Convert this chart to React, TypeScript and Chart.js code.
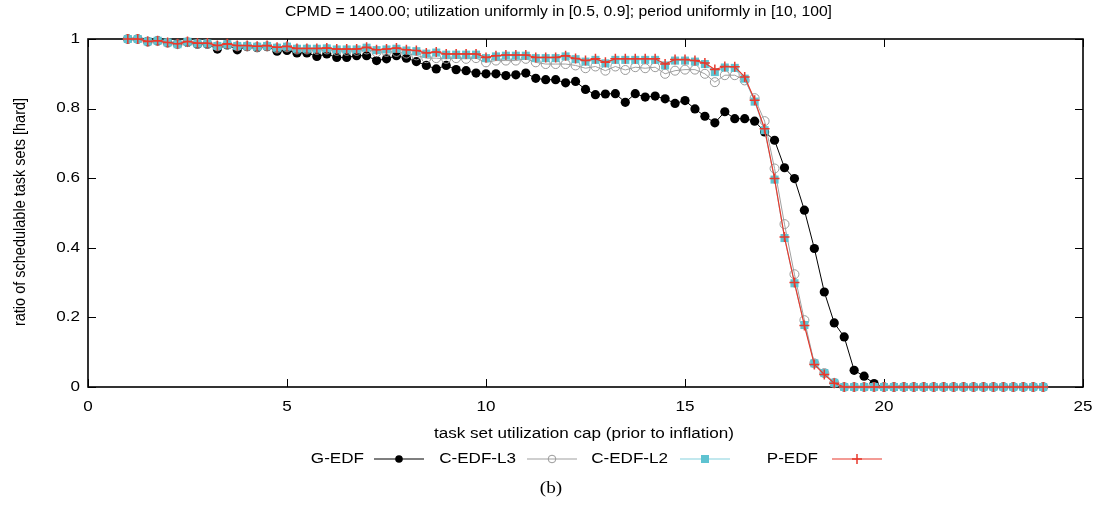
import React, { useEffect, useRef } from "react";
import { Chart, registerables } from "chart.js";

Chart.register(...registerables);

// ---------- data ----------
const utilizationCap = [
  1, 1.25, 1.5, 1.75, 2, 2.25, 2.5, 2.75, 3, 3.25,
  3.5, 3.75, 4, 4.25, 4.5, 4.75, 5, 5.25, 5.5, 5.75,
  6, 6.25, 6.5, 6.75, 7, 7.25, 7.5, 7.75, 8, 8.25,
  8.5, 8.75, 9, 9.25, 9.5, 9.75, 10, 10.25, 10.5, 10.75,
  11, 11.25, 11.5, 11.75, 12, 12.25, 12.5, 12.75, 13, 13.25,
  13.5, 13.75, 14, 14.25, 14.5, 14.75, 15, 15.25, 15.5, 15.75,
  16, 16.25, 16.5, 16.75, 17, 17.25, 17.5, 17.75, 18, 18.25,
  18.5, 18.75, 19, 19.25, 19.5, 19.75, 20, 20.25, 20.5, 20.75,
  21, 21.25, 21.5, 21.75, 22, 22.25, 22.5, 22.75, 23, 23.25,
  23.5, 23.75, 24,
];

const gEdf = [
  1.0, 1.0, 0.993, 0.995, 0.99, 0.986, 0.99, 0.985, 0.985, 0.971,
  0.983, 0.969, 0.978, 0.975, 0.978, 0.965, 0.967, 0.96, 0.96, 0.95,
  0.957, 0.947, 0.947, 0.952, 0.952, 0.938, 0.943, 0.952, 0.945, 0.935,
  0.924, 0.914, 0.924, 0.912, 0.909, 0.902, 0.9, 0.9, 0.895, 0.897,
  0.902, 0.887, 0.883, 0.883, 0.874, 0.878, 0.855, 0.84, 0.842, 0.843,
  0.818, 0.843, 0.833, 0.836, 0.828, 0.815, 0.823, 0.799, 0.778, 0.759,
  0.791, 0.771, 0.771, 0.764, 0.733, 0.709, 0.63, 0.599, 0.508, 0.398,
  0.273, 0.184, 0.144, 0.048, 0.031, 0.01, 0, 0, 0, 0,
  0, 0, 0, 0, 0, 0, 0, 0, 0, 0,
  0, 0, 0,
];

const cEdfL3 = [
  1.0, 1.0, 0.992, 0.994, 0.989, 0.985, 0.991, 0.986, 0.986, 0.979,
  0.984, 0.979, 0.979, 0.977, 0.979, 0.973, 0.976, 0.97, 0.97, 0.969,
  0.97, 0.966, 0.966, 0.966, 0.97, 0.962, 0.963, 0.963, 0.958, 0.953,
  0.945, 0.945, 0.943, 0.945, 0.943, 0.945, 0.933, 0.938, 0.938, 0.938,
  0.943, 0.933, 0.928, 0.928, 0.928, 0.924, 0.916, 0.921, 0.909, 0.921,
  0.911, 0.919, 0.916, 0.919, 0.9, 0.909, 0.912, 0.912, 0.9, 0.876,
  0.896, 0.896, 0.881, 0.83, 0.764, 0.628, 0.468, 0.324, 0.192, 0.068,
  0.04, 0.012, 0, 0, 0, 0, 0, 0, 0, 0,
  0, 0, 0, 0, 0, 0, 0, 0, 0, 0,
  0, 0, 0,
];

const cEdfL2 = [
  1.0, 1.0, 0.993, 0.995, 0.99, 0.985, 0.992, 0.987, 0.987, 0.98,
  0.985, 0.98, 0.98, 0.978, 0.98, 0.975, 0.978, 0.972, 0.972, 0.972,
  0.973, 0.97, 0.97, 0.97, 0.975, 0.968, 0.97, 0.972, 0.967, 0.965,
  0.958, 0.961, 0.955, 0.955, 0.955, 0.955, 0.945, 0.95, 0.952, 0.952,
  0.952, 0.945, 0.945, 0.945, 0.95, 0.942, 0.935, 0.94, 0.93, 0.94,
  0.94, 0.94, 0.94, 0.94, 0.924, 0.938, 0.938, 0.935, 0.928, 0.905,
  0.918, 0.917, 0.886, 0.82, 0.738, 0.596, 0.428, 0.298, 0.178, 0.068,
  0.04, 0.012, 0, 0, 0, 0, 0, 0, 0, 0,
  0, 0, 0, 0, 0, 0, 0, 0, 0, 0,
  0, 0, 0,
];

const pEdf = [
  1.0, 1.0, 0.993, 0.995, 0.99, 0.986, 0.993, 0.988, 0.988, 0.981,
  0.986, 0.981, 0.981, 0.979, 0.981, 0.976, 0.979, 0.973, 0.973, 0.973,
  0.974, 0.971, 0.971, 0.971, 0.976, 0.969, 0.971, 0.974, 0.969, 0.967,
  0.96, 0.963, 0.957, 0.957, 0.957, 0.957, 0.947, 0.952, 0.954, 0.954,
  0.954, 0.947, 0.947, 0.947, 0.952, 0.944, 0.938, 0.943, 0.933, 0.943,
  0.943, 0.943, 0.943, 0.943, 0.928, 0.941, 0.941, 0.938, 0.931, 0.912,
  0.921, 0.92, 0.891, 0.824, 0.742, 0.599, 0.431, 0.3, 0.177, 0.065,
  0.036, 0.011, 0, 0, 0, 0, 0, 0, 0, 0,
  0, 0, 0, 0, 0, 0, 0, 0, 0, 0,
  0, 0, 0,
];

const seriesNames = ["G-EDF", "C-EDF-L3", "C-EDF-L2", "P-EDF"];
const xTicks = [0, 5, 10, 15, 20, 25];
const xTickLabels = ["0", "5", "10", "15", "20", "25"];
const yTicks = [0, 0.2, 0.4, 0.6, 0.8, 1];
const yTickLabels = ["0", "0.2", "0.4", "0.6", "0.8", "1"];
const chartTitle =
  "CPMD = 1400.00; utilization uniformly in [0.5, 0.9]; period uniformly in [10, 100]";
const xAxisTitle = "task set utilization cap (prior to inflation)";
const yAxisTitle = "ratio of schedulable task sets [hard]";
const caption = "(b)";

// ---------- styles ----------
const SANS = '"Liberation Sans", Arial, Helvetica, sans-serif';
const SERIF = '"Liberation Serif", "Times New Roman", serif';
const STRETCH = 1.22;

const styles = [
  { line: "#000000", point: "#000000", kind: "dot" },
  { line: "#a0a0a0", point: "#999999", kind: "ring" },
  { line: "#86d2de", point: "#5ec3d1", kind: "square" },
  { line: "#e8392c", point: "#e8392c", kind: "cross" },
];

function toPoints(ys: number[]) {
  return utilizationCap.map((x, i) => ({ x, y: ys[i] }));
}

function drawText(
  ctx: CanvasRenderingContext2D,
  text: string,
  x: number,
  y: number,
  align: CanvasTextAlign,
  size: number,
  sx: number,
  family = SANS,
  rotate = 0
) {
  ctx.save();
  ctx.translate(x, y);
  ctx.scale(sx, 1);
  if (rotate) ctx.rotate(rotate);
  ctx.font = `${size}px ${family}`;
  ctx.fillStyle = "#000";
  ctx.textAlign = align;
  ctx.textBaseline = "middle";
  ctx.fillText(text, 0, 0);
  ctx.restore();
}

function drawMarker(ctx: CanvasRenderingContext2D, kind: string, x: number, y: number, color: string) {
  ctx.save();
  if (kind === "dot") {
    ctx.fillStyle = color;
    ctx.beginPath();
    ctx.arc(x, y, 3.8, 0, Math.PI * 2);
    ctx.fill();
  } else if (kind === "ring") {
    ctx.strokeStyle = color;
    ctx.lineWidth = 1;
    ctx.beginPath();
    ctx.arc(x, y, 3.8, 0, Math.PI * 2);
    ctx.stroke();
  } else if (kind === "square") {
    ctx.fillStyle = color;
    ctx.fillRect(x - 4, y - 4, 8, 8);
  } else {
    ctx.strokeStyle = color;
    ctx.lineWidth = 1.5;
    ctx.beginPath();
    ctx.moveTo(x - 5, y);
    ctx.lineTo(x + 5, y);
    ctx.moveTo(x, y - 5);
    ctx.lineTo(x, y + 5);
    ctx.stroke();
  }
  ctx.restore();
}

const framePlugin = {
  id: "gnuplotFrame",
  beforeDatasetsDraw(chart: any) {
    const { ctx, chartArea } = chart;
    const { left, right, top, bottom } = chartArea;
    const xs = chart.scales.x;
    const ys = chart.scales.y;
    ctx.save();
    ctx.strokeStyle = "#000";
    ctx.lineWidth = 1;
    ctx.beginPath();
    xTicks.forEach((v) => {
      const px = Math.round(xs.getPixelForValue(v)) + 0.5;
      ctx.moveTo(px, bottom);
      ctx.lineTo(px, bottom - 8);
      ctx.moveTo(px, top);
      ctx.lineTo(px, top + 8);
    });
    yTicks.forEach((v) => {
      const py = Math.round(ys.getPixelForValue(v)) + 0.5;
      ctx.moveTo(left, py);
      ctx.lineTo(left + 8, py);
      ctx.moveTo(right, py);
      ctx.lineTo(right - 8, py);
    });
    ctx.stroke();
    ctx.lineWidth = 1.6;
    ctx.strokeRect(left, top, right - left, bottom - top);
    ctx.restore();
  },
  afterDraw(chart: any) {
    const { ctx, chartArea } = chart;
    const xs = chart.scales.x;
    const ys = chart.scales.y;
    // title
    drawText(ctx, chartTitle, 558.5, 12, "center", 14, 1.12);
    // tick labels
    xTicks.forEach((v, i) => {
      drawText(ctx, xTickLabels[i], xs.getPixelForValue(v), chartArea.bottom + 20, "center", 14, STRETCH);
    });
    yTicks.forEach((v, i) => {
      drawText(ctx, yTickLabels[i], chartArea.left - 8, ys.getPixelForValue(v), "right", 14, STRETCH);
    });
    // axis titles
    drawText(ctx, xAxisTitle, 584, 434, "center", 14, STRETCH);
    drawText(ctx, yAxisTitle, 20, 212, "center", 14.5, 1.15, SANS, -Math.PI / 2);
    // legend
    const legendY = 459;
    const textRight = [364, 516, 668, 818];
    const lineStart = [374, 527, 680, 832];
    seriesNames.forEach((name, i) => {
      drawText(ctx, name, textRight[i], legendY, "right", 14, STRETCH);
      const st = styles[i];
      ctx.save();
      ctx.strokeStyle = st.line;
      ctx.lineWidth = 1.2;
      ctx.beginPath();
      ctx.moveTo(lineStart[i], legendY);
      ctx.lineTo(lineStart[i] + 50, legendY);
      ctx.stroke();
      ctx.restore();
      drawMarker(ctx, st.kind, lineStart[i] + 25, legendY, st.point);
    });
    // caption
    drawText(ctx, caption, 551, 489, "center", 16, 1.2, SERIF);
  },
};

export default function App() {
  const ref = useRef<HTMLCanvasElement | null>(null);

  useEffect(() => {
    document.body.style.margin = "0";
    const canvas = ref.current;
    if (!canvas) return;
    const chart = new Chart(canvas, {
      type: "line",
      data: {
        datasets: [
          {
            label: seriesNames[0],
            data: toPoints(gEdf),
            borderColor: styles[0].line,
            borderWidth: 1,
            pointStyle: "circle",
            pointRadius: 4.6,
            pointBackgroundColor: styles[0].point,
            pointBorderColor: styles[0].point,
            pointBorderWidth: 0,
            order: 4,
            clip: false,
            tension: 0,
          },
          {
            label: seriesNames[1],
            data: toPoints(cEdfL3),
            borderColor: styles[1].line,
            borderWidth: 1,
            pointStyle: "circle",
            pointRadius: 4.5,
            pointBackgroundColor: "rgba(0,0,0,0)",
            pointBorderColor: styles[1].point,
            pointBorderWidth: 1,
            order: 3,
            clip: false,
            tension: 0,
          },
          {
            label: seriesNames[2],
            data: toPoints(cEdfL2),
            borderColor: styles[2].line,
            borderWidth: 1,
            pointStyle: "rect",
            pointRadius: 5.7,
            pointBackgroundColor: styles[2].point,
            pointBorderColor: styles[2].point,
            pointBorderWidth: 0,
            order: 2,
            clip: false,
            tension: 0,
          },
          {
            label: seriesNames[3],
            data: toPoints(pEdf),
            borderColor: styles[3].line,
            borderWidth: 1.2,
            pointStyle: "cross",
            pointRadius: 5,
            pointBackgroundColor: styles[3].point,
            pointBorderColor: styles[3].point,
            pointBorderWidth: 1.5,
            order: 1,
            clip: false,
            tension: 0,
          },
        ],
      },
      options: {
        responsive: false,
        animation: false,
        events: [],
        layout: { padding: { left: 88, right: 20, top: 39, bottom: 120 } },
        scales: {
          x: { type: "linear", min: 0, max: 25, display: false },
          y: { type: "linear", min: 0, max: 1, display: false },
        },
        plugins: {
          legend: { display: false },
          title: { display: false },
          tooltip: { enabled: false },
        },
      },
      plugins: [framePlugin],
    } as any);
    return () => chart.destroy();
  }, []);

  return (
    <div style={{ width: 1103, height: 507, background: "#fff" }}>
      <canvas ref={ref} width={1103} height={507} style={{ width: 1103, height: 507, display: "block" }} />
    </div>
  );
}
